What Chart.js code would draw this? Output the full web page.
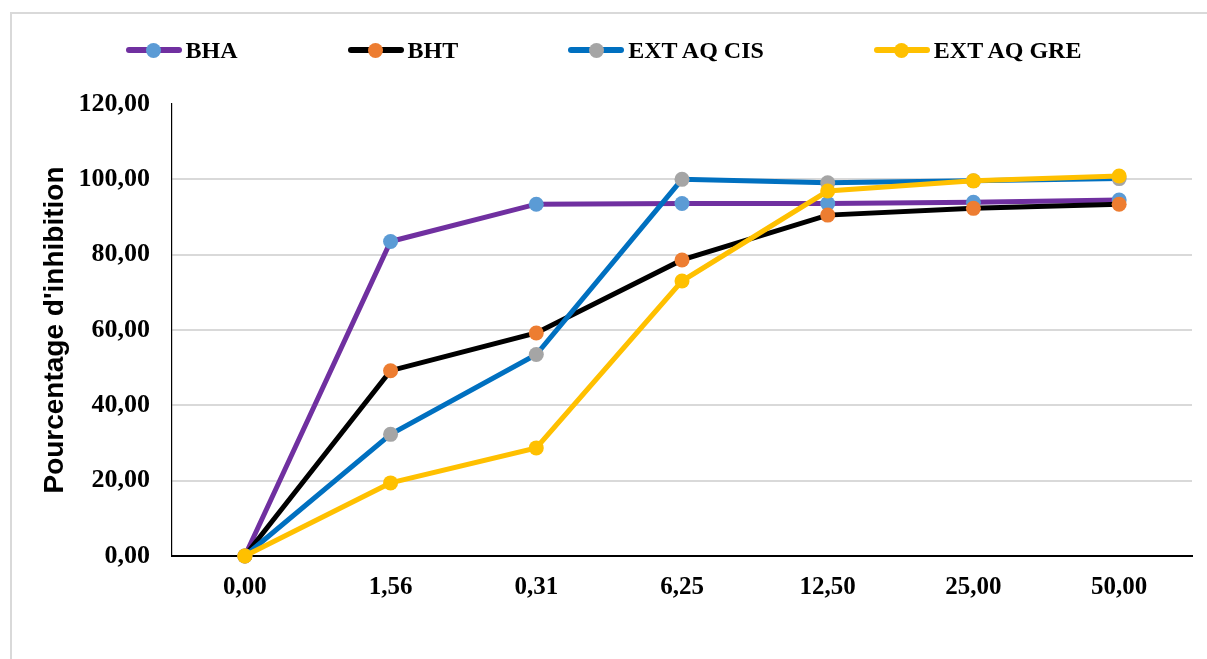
<!DOCTYPE html>
<html lang="fr">
<head>
<meta charset="utf-8">
<title>Pourcentage d'inhibition</title>
<script src="https://cdn.jsdelivr.net/npm/chart.js@4.4.1/dist/chart.umd.min.js"></script>
<style>
  html, body { margin: 0; padding: 0; background: #fff; overflow: hidden; }
  #wrap { position: relative; width: 1207px; height: 659px; }
  #frame { position: absolute; left: 10px; top: 12px; width: 1300px; height: 800px;
           border: 2px solid #d9d9d9; box-sizing: border-box; }
  #chart { position: absolute; left: 0; top: 0; }
  #legend { position: absolute; left: 0; top: 35px; width: 1207px; height: 30px;
            display: flex; justify-content: center; align-items: center; gap: 110px;
            font: bold 24px "Liberation Serif", "Times New Roman", serif; color: #000; }
  .item { display: flex; align-items: center; white-space: nowrap; }
  .swatch { position: relative; width: 56px; height: 6px; border-radius: 3px; margin-right: 4px; }
  .swatch i { position: absolute; left: 50%; top: 50%; width: 15px; height: 15px;
              margin: -7.5px 0 0 -7.5px; border-radius: 50%; }
</style>
</head>
<body>
<div id="wrap">
  <div id="frame"></div>
  <canvas id="chart" width="1207" height="659"></canvas>
  <div id="legend"></div>
</div>
<script>
// Concentrations (category labels on the x axis)
const categories = ['0,00', '1,56', '0,31', '6,25', '12,50', '25,00', '50,00'];

// Inhibition (%) per compound
const bha       = [0, 83.5, 93.4, 93.6, 93.6, 93.9, 94.5];
const bht       = [0, 49.2, 59.2, 78.6, 90.5, 92.3, 93.4];
const extAqCis  = [0, 32.3, 53.5, 100.0, 99.1, 99.6, 100.2];
const extAqGre  = [0, 19.4, 28.7, 73.0, 96.9, 99.6, 100.9];

const seriesNames = ['BHA', 'BHT', 'EXT AQ CIS', 'EXT AQ GRE'];
const seriesData  = [bha, bht, extAqCis, extAqGre];
const lineColors  = ['#7030A0', '#000000', '#0070C0', '#FFC000'];
const pointColors = ['#5B9BD5', '#ED7D31', '#A5A5A5', '#FFC000'];

// Y axis range
const yMin = 0, yMax = 120, yStep = 20;

const fmt = v => Number(v).toFixed(2).replace('.', ',');
const serif = '"Liberation Serif", "Times New Roman", serif';

const datasets = seriesData.map((d, i) => ({
  label: seriesNames[i],
  data: d,
  borderColor: lineColors[i],
  backgroundColor: pointColors[i],
  pointBackgroundColor: pointColors[i],
  pointBorderColor: pointColors[i],
  pointBorderWidth: 0,
  pointRadius: 7.5,
  pointHoverRadius: 7.5,
  borderWidth: 5,
  tension: 0,
  clip: false,
  order: seriesData.length - 1 - i   // later series drawn on top
}));

// HTML legend (line + marker swatch, then series name)
const legend = document.getElementById('legend');
seriesNames.forEach((name, i) => {
  const item = document.createElement('div');
  item.className = 'item';
  const sw = document.createElement('span');
  sw.className = 'swatch';
  sw.style.background = lineColors[i];
  const dot = document.createElement('i');
  dot.style.background = pointColors[i];
  sw.appendChild(dot);
  const txt = document.createElement('span');
  txt.textContent = name;
  item.appendChild(sw);
  item.appendChild(txt);
  legend.appendChild(item);
});

new Chart(document.getElementById('chart'), {
  type: 'line',
  data: { labels: categories, datasets },
  options: {
    responsive: false,
    animation: false,
    devicePixelRatio: 1,
    layout: { padding: { left: 0, top: 104, right: 15, bottom: 0 } },
    plugins: { legend: { display: false }, tooltip: { enabled: false } },
    scales: {
      x: {
        type: 'category',
        offset: true,
        afterFit: s => { s.height = 103; },
        grid: { display: false, drawTicks: false },
        border: { display: true, color: '#000', width: 2 },
        ticks: { color: '#000', padding: 17, font: { family: serif, size: 25, weight: 'bold' } }
      },
      y: {
        min: yMin,
        max: yMax,
        afterFit: s => { s.width = 172; },
        ticks: {
          stepSize: yStep,
          color: '#000',
          padding: 22,
          callback: v => fmt(v),
          font: { family: serif, size: 26, weight: 'bold' }
        },
        grid: {
          drawTicks: false,
          lineWidth: 2,
          color: c => (c.tick && (c.tick.value === yMin || c.tick.value === yMax)) ? 'rgba(0,0,0,0)' : '#d9d9d9'
        },
        border: { display: true, color: '#000', width: 1.2 },
        title: {
          display: true,
          text: "Pourcentage d'inhibition",
          color: '#000',
          padding: { top: 38, bottom: 0 },
          font: { family: '"Liberation Sans", Arial, sans-serif', size: 28, weight: 'bold' }
        }
      }
    }
  }
});
</script>
</body>
</html>
